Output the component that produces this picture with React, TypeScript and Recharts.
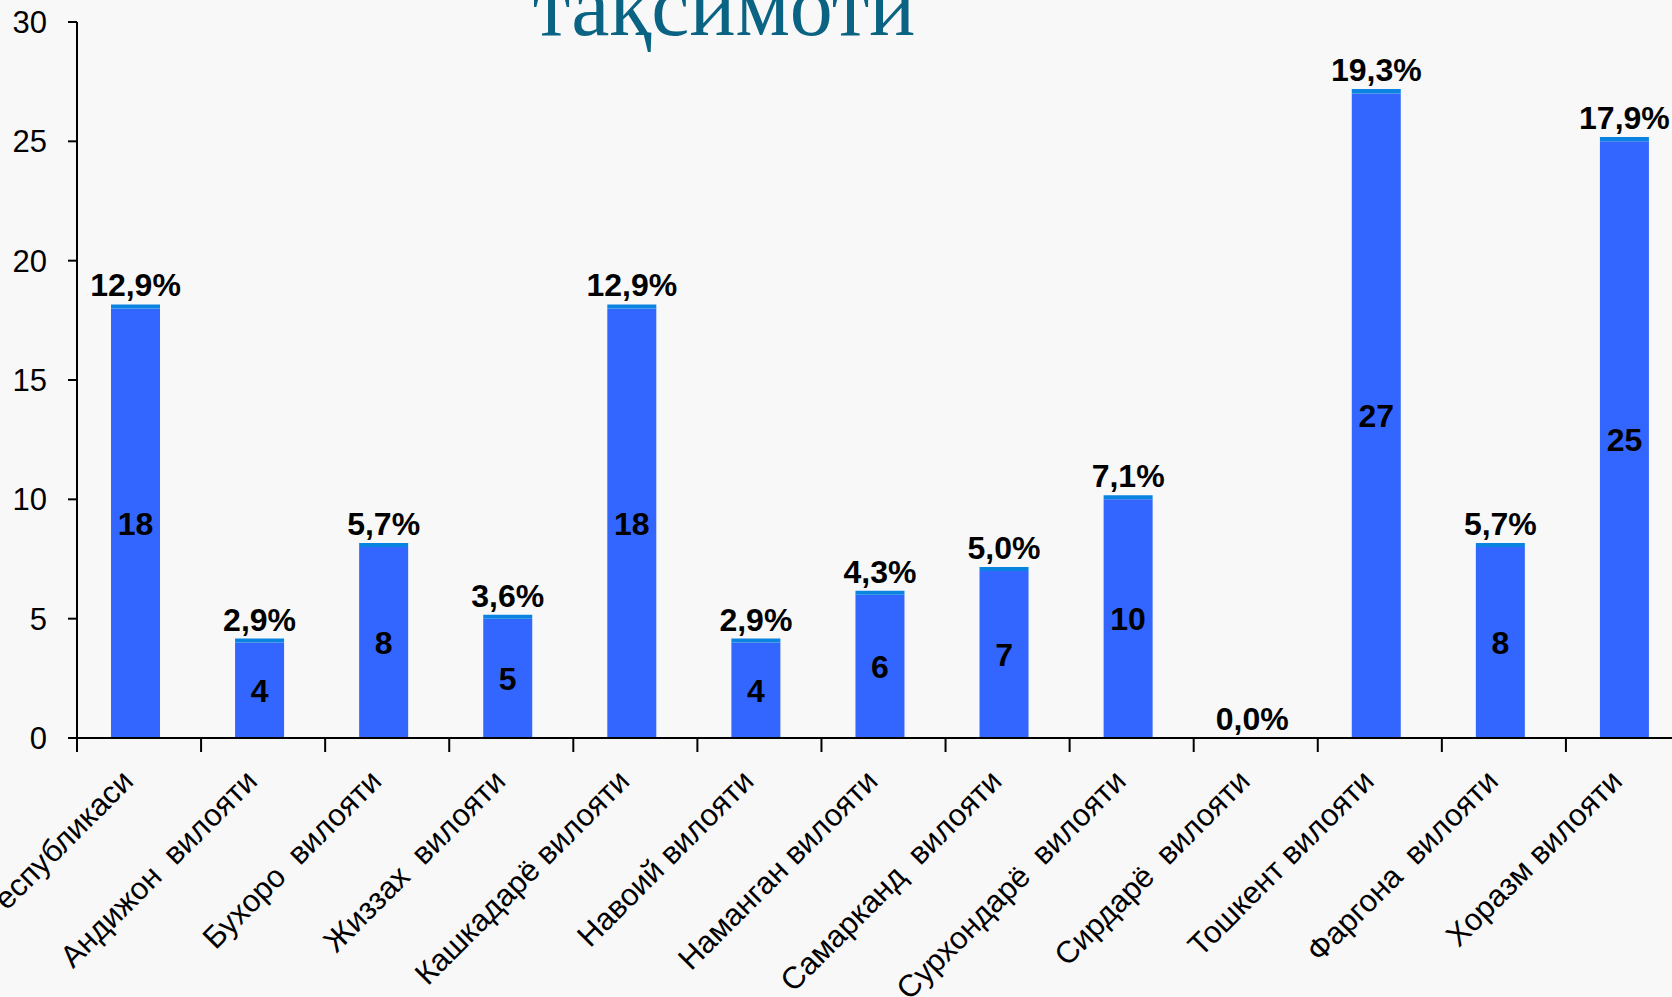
import { BarChart, Bar, XAxis, YAxis, LabelList } from 'recharts';

const categories = [
  'Қорақалпоғистон Республикаси',
  'Андижон\u00a0\u00a0вилояти',
  'Бухоро\u00a0\u00a0вилояти',
  'Жиззах\u00a0\u00a0вилояти',
  'Кашкадарё вилояти',
  'Навоий вилояти',
  'Наманган вилояти',
  'Самарканд\u00a0\u00a0вилояти',
  'Сурхондарё\u00a0\u00a0вилояти',
  'Сирдарё\u00a0\u00a0вилояти',
  'Тошкент вилояти',
  'Фаргона\u00a0\u00a0вилояти',
  'Хоразм вилояти'
];

const counts = [18, 4, 8, 5, 18, 4, 6, 7, 10, 0, 27, 8, 25];
const shares = [12.9, 2.9, 5.7, 3.6, 12.9, 2.9, 4.3, 5.0, 7.1, 0.0, 19.3, 5.7, 17.9];
const yTicks = [0, 5, 10, 15, 20, 25, 30];
const boundaryTicks = [0, 1, 2, 3, 4, 5, 6, 7, 8, 9, 10, 11, 12, 13];

const data = categories.map((name, i) => ({ name, count: counts[i], share: shares[i] / 100 }));

const font = '"Liberation Sans", Arial, sans-serif';

function CategoryTick({ x, y, payload }: any) {
  const ax = x;
  const ay = y + 44;
  return (
    <text
      x={ax}
      y={ay}
      transform={`rotate(-45, ${ax}, ${ay})`}
      textAnchor="end"
      fontSize={31}
      fontFamily={font}
      fill="#000"
    >
      {payload.value}
    </text>
  );
}

const NoLabel = () => <text />;

export default function App() {
  return (
    <div style={{ position: 'absolute', left: 0, top: 0, width: 1672, height: 997, overflow: 'hidden', background: '#f8f8f8' }}>
      <BarChart
        width={1700}
        height={997}
        data={data}
        margin={{ top: 22, right: 10, left: 0, bottom: 0 }}
        style={{ fontFamily: font }}
      >
        {/* boundary tick marks between categories, Excel style */}
        <XAxis
          xAxisId={0}
          type="number"
          dataKey="count"
          domain={[0, categories.length]}
          ticks={boundaryTicks}
          allowDataOverflow
          tick={NoLabel}
          tickSize={14}
          height={1}
          axisLine={{ stroke: '#000', strokeWidth: 2 }}
          tickLine={{ stroke: '#000', strokeWidth: 2 }}
        />
        <XAxis
          xAxisId="cat"
          dataKey="name"
          interval={0}
          height={258}
          padding={{ left: -4, right: 4 }}
          tickSize={0}
          tickMargin={0}
          axisLine={false}
          tickLine={false}
          tick={<CategoryTick />}
        />
        <YAxis
          domain={[0, 30]}
          ticks={yTicks}
          width={77}
          tickSize={9}
          tickMargin={21}
          axisLine={{ stroke: '#000', strokeWidth: 2 }}
          tickLine={{ stroke: '#000', strokeWidth: 2 }}
          tick={{ fill: '#000', fontSize: 31, fontFamily: font }}
        />
        <Bar xAxisId="cat" dataKey="count" stackId="a" fill="#3366ff" barSize={49} isAnimationActive={false}>
          <LabelList
            dataKey="count"
            position="center"
            formatter={(v: any) => (v === 0 ? '' : v)}
            fill="#000"
            fontSize={32}
            fontWeight="bold"
            fontFamily={font}
          />
        </Bar>
        <Bar
          xAxisId="cat"
          dataKey="share"
          stackId="a"
          fill="#0a84e0"
          barSize={49}
          minPointSize={(v: number) => (v > 0 ? 4 : 0.01)}
          isAnimationActive={false}
        >
          <LabelList
            dataKey="share"
            position="top"
            offset={8}
            formatter={(v: any) => (Number(v) * 100).toFixed(1).replace('.', ',') + '%'}
            fill="#000"
            fontSize={32}
            fontWeight="bold"
            fontFamily={font}
          />
        </Bar>
      </BarChart>
      <svg width={1672} height={120} style={{ position: 'absolute', left: 0, top: 0, pointerEvents: 'none' }}>
        <text x={724} y={35} textAnchor="middle" fontFamily='"Liberation Serif", "Times New Roman", serif' fontSize={86} fill="#0b6383">
          тақсимоти
        </text>
      </svg>
    </div>
  );
}
